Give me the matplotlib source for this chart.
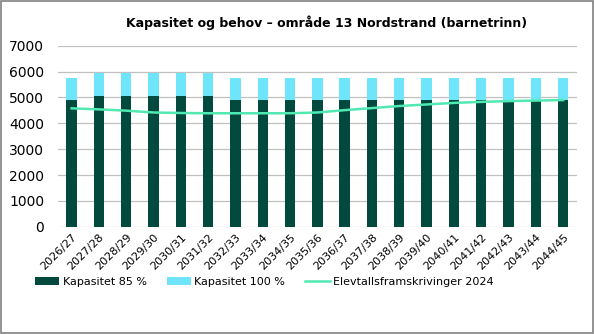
import matplotlib
matplotlib.use('Agg')
import matplotlib.pyplot as plt
import numpy as np
from matplotlib.patches import Rectangle

# Kapasitet og behov - område 13 Nordstrand (barnetrinn)
years = ['2026/27', '2027/28', '2028/29', '2029/30', '2030/31', '2031/32',
         '2032/33', '2033/34', '2034/35', '2035/36', '2036/37', '2037/38',
         '2038/39', '2039/40', '2040/41', '2041/42', '2042/43', '2043/44',
         '2044/45']
kap_100 = [5760, 5960, 5960, 5960, 5960, 5960, 5760, 5760, 5760, 5760,
           5760, 5760, 5760, 5760, 5760, 5760, 5760, 5760, 5760]
kap_85 = [4896, 5066, 5066, 5066, 5066, 5066, 4896, 4896, 4896, 4896,
          4896, 4896, 4896, 4896, 4896, 4896, 4896, 4896, 4896]
elevtall = [4580, 4540, 4490, 4420, 4400, 4390, 4390, 4390, 4390, 4420,
            4510, 4590, 4670, 4730, 4790, 4830, 4860, 4880, 4900]

plt.rcParams['font.family'] = ['DejaVu Sans']
fontsize = 9

dark = '#024a3e'
light = '#6fe5fb'
green = '#52e8b2'

fig = plt.figure(figsize=(5.94, 3.34), dpi=100)
ax = fig.add_axes([0.0976, 0.321, 0.8734, 0.542])

x = np.arange(len(years))
rest = np.array(kap_100) - np.array(kap_85)
b1 = ax.bar(x, kap_85, width=0.38, color=dark, label='Kapasitet 85 %', zorder=2)
b2 = ax.bar(x, rest, bottom=kap_85, width=0.38, color=light, label='Kapasitet 100 %', zorder=2)
l1, = ax.plot(x, elevtall, color=green, linewidth=1.8, label='Elevtallsframskrivinger 2024', zorder=3)

ax.set_xlim(-0.5, len(years) - 0.5)
ax.set_ylim(0, 7000)
ax.set_yticks(range(0, 7001, 1000))
ax.yaxis.grid(True, color='#c0c0c0', linewidth=0.9, zorder=0)
ax.set_axisbelow(True)
for s in ax.spines.values():
    s.set_visible(False)
ax.tick_params(axis='y', length=0, labelsize=fontsize + 1, pad=10)
ax.tick_params(axis='x', length=0, pad=4)
ax.set_xticks(x)
ax.set_xticklabels(years, rotation=45, ha='right', rotation_mode='anchor', fontsize=fontsize - 1)

fig.suptitle('Kapasitet og behov – område 13 Nordstrand (barnetrinn)', x=0.55, y=0.955,
             fontsize=fontsize, fontweight='bold')

fig.legend(handles=[b1, b2, l1], loc='center', bbox_to_anchor=(0.445, 0.155), ncol=3, frameon=False,
           fontsize=fontsize - 1, handlelength=2.2, handleheight=0.7, columnspacing=1.8,
           handletextpad=0.3)

fig.patches.append(Rectangle((0.002, 0.003), 0.996, 0.994, transform=fig.transFigure,
                             fill=False, edgecolor='#808080', linewidth=1.2))

fig.savefig('out.png', dpi=100)
